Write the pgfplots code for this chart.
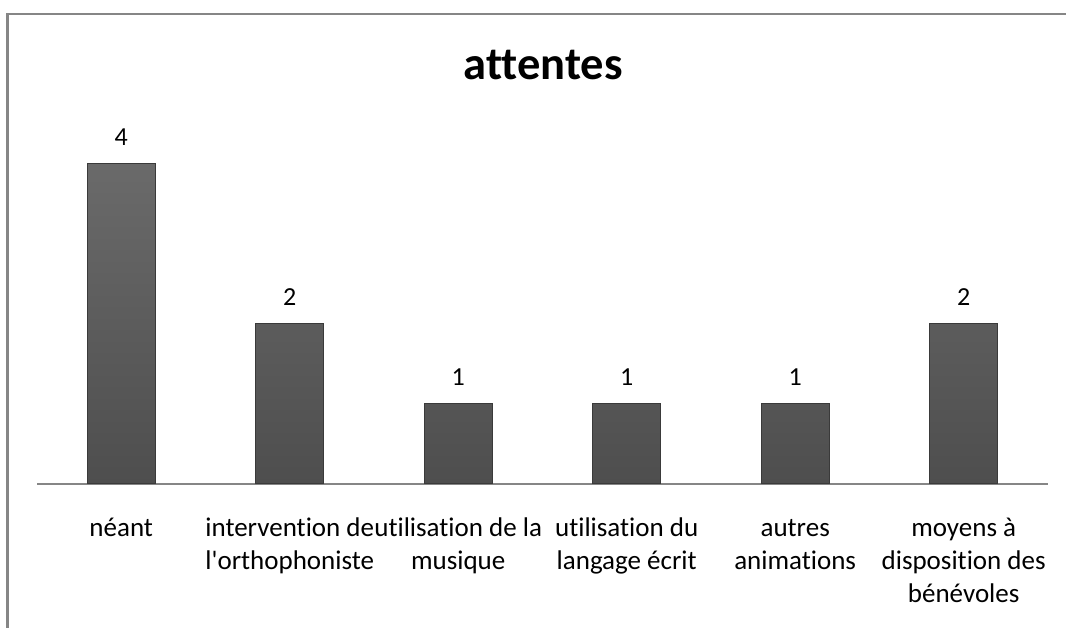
\documentclass[border=0pt]{standalone}
\usepackage{pgfplots}
\pgfplotsset{compat=1.18}
\usepackage{fontspec}
\setmainfont{Carlito}[Ligatures={TeXOff,NoCommon}]
\definecolor{framegray}{HTML}{868686}
\definecolor{axisgray}{HTML}{868686}
\definecolor{bartop}{HTML}{6A6A6A}
\definecolor{barbot}{HTML}{4E4E4E}
\definecolor{baredge}{HTML}{3A3A3A}
\begin{document}
\begin{tikzpicture}[x=1pt,y=1pt]
\path[use as bounding box] (0,0) rectangle (1066,628);
\draw[framegray, line width=2.5pt] (7.5,0) -- (7.5,614) -- (1066,614);
\node[font=\fontsize{46.5}{53}\selectfont\bfseries, anchor=base] at (543,548) {attentes};
\begin{axis}[
  at={(37pt,144pt)}, anchor=south west,
  scale only axis, width=1011pt, height=400pt,
  xmin=-0.5, xmax=5.5, ymin=0, ymax=5,
  axis y line=none, axis x line=bottom,
  axis line style={axisgray, line width=1.5pt, -},
  xtick=data, major tick length=0pt,
  xticklabels={n\'eant, {intervention de\\l'orthophoniste}, {utilisation de la\\musique}, {utilisation du\\langage \'ecrit}, {autres\\animations}, {moyens \`a\\disposition des\\b\'en\'evoles}},
  typeset ticklabels with strut,
  xticklabel style={align=center, font=\fontsize{27}{33}\selectfont, anchor=north, inner sep=0pt, yshift=-29pt},
  ybar, bar width=68pt,
  /pgf/number format/assume math mode=true,
  nodes near coords,
  every node near coord/.append style={font=\fontsize{26}{31}\selectfont, anchor=base, yshift=18pt, inner sep=0pt, black},
  clip=false,
]
\addplot[top color=bartop, bottom color=barbot, draw=baredge, line width=1pt] coordinates {(0,4) (1,2) (2,1) (3,1) (4,1) (5,2)};
\end{axis}
\end{tikzpicture}
\end{document}
